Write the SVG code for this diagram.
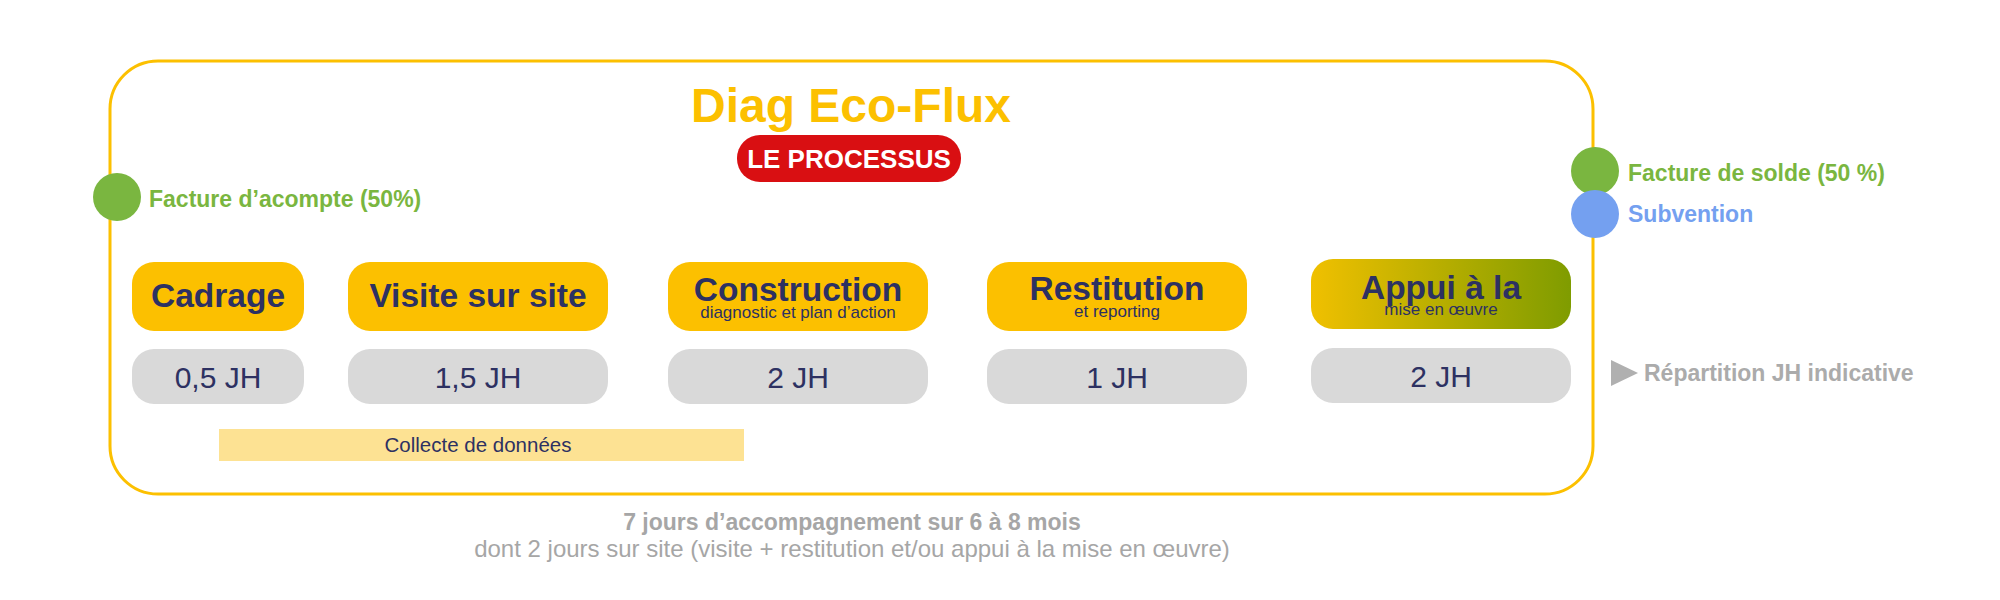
<svg xmlns="http://www.w3.org/2000/svg" width="2000" height="600" viewBox="0 0 2000 600">
<style>
text{font-family:"Liberation Sans",Arial,sans-serif}
.stage{fill:#FCC000}
.jh{fill:#D9D9D9}
.t{font-weight:bold;font-size:33.5px;fill:#2D3162;text-anchor:middle}
.s{font-size:17px;fill:#2D3162;text-anchor:middle}
.n{font-size:30px;fill:#2D3162;text-anchor:middle}
.lab{font-weight:bold;font-size:23px}
</style>
<defs>
<linearGradient id="g" x1="0" y1="0" x2="1" y2="0">
<stop offset="0" stop-color="#F0C000"/>
<stop offset="1" stop-color="#7F9C00"/>
</linearGradient>
</defs>
<rect width="2000" height="600" fill="#fff"/>
<g id="frame">
<rect x="110" y="61" width="1483" height="433" rx="48" fill="none" stroke="#FCC000" stroke-width="3"/>
</g>
<g id="title">
<text x="851" y="122" font-size="48" font-weight="bold" fill="#FCC000" text-anchor="middle">Diag Eco-Flux</text>
<rect x="737" y="135" width="224" height="47" rx="23" fill="#D90F12"/>
<text x="849" y="168" font-size="26" font-weight="bold" fill="#fff" text-anchor="middle">LE PROCESSUS</text>
</g>
<g id="acompte">
<circle cx="117" cy="197" r="24" fill="#7AB640"/>
<text x="149" y="207" class="lab" fill="#7AB640">Facture d’acompte (50%)</text>
</g>
<g id="solde">
<circle cx="1595" cy="171" r="24" fill="#7AB640"/>
<text x="1628" y="181" class="lab" fill="#7AB640">Facture de solde (50 %)</text>
</g>
<g id="subvention">
<circle cx="1595" cy="214" r="24" fill="#74A0F0"/>
<text x="1628" y="222" class="lab" fill="#74A0F0">Subvention</text>
</g>
<g id="cadrage">
<rect class="stage" x="132" y="262" width="172" height="69" rx="22"/>
<text class="t" x="218" y="307">Cadrage</text>
<rect class="jh" x="132" y="349" width="172" height="55" rx="22"/>
<text class="n" x="218" y="388">0,5 JH</text>
</g>
<g id="visite">
<rect class="stage" x="348" y="262" width="260" height="69" rx="22"/>
<text class="t" x="478" y="307">Visite sur site</text>
<rect class="jh" x="348" y="349" width="260" height="55" rx="22"/>
<text class="n" x="478" y="388">1,5 JH</text>
</g>
<g id="construction">
<rect class="stage" x="668" y="262" width="260" height="69" rx="22"/>
<text class="t" x="798" y="301">Construction</text>
<text class="s" x="798" y="318">diagnostic et plan d’action</text>
<rect class="jh" x="668" y="349" width="260" height="55" rx="22"/>
<text class="n" x="798" y="388">2 JH</text>
</g>
<g id="restitution">
<rect class="stage" x="987" y="262" width="260" height="69" rx="22"/>
<text class="t" x="1117" y="300">Restitution</text>
<text class="s" x="1117" y="317">et reporting</text>
<rect class="jh" x="987" y="349" width="260" height="55" rx="22"/>
<text class="n" x="1117" y="388">1 JH</text>
</g>
<g id="appui">
<rect x="1311" y="259" width="260" height="70" rx="22" fill="url(#g)"/>
<text class="t" x="1441" y="299">Appui à la</text>
<text class="s" x="1441" y="315">mise en œuvre</text>
<rect class="jh" x="1311" y="348" width="260" height="55" rx="22"/>
<text class="n" x="1441" y="387">2 JH</text>
</g>
<g id="collecte">
<rect x="219" y="429" width="525" height="32" fill="#FDE293"/>
<text x="478" y="452" font-size="20.5" fill="#2D3162" text-anchor="middle">Collecte de données</text>
</g>
<g id="legend">
<polygon points="1611,360 1638,373 1611,386" fill="#B0B0B0"/>
<text x="1644" y="381" class="lab" fill="#ABABAB">Répartition JH indicative</text>
</g>
<g id="footer">
<text x="852" y="530" font-size="23" font-weight="bold" fill="#A6A6A6" text-anchor="middle">7 jours d’accompagnement sur 6 à 8 mois</text>
<text x="852" y="557" font-size="24" fill="#A6A6A6" text-anchor="middle">dont 2 jours sur site (visite + restitution et/ou appui à la mise en œuvre)</text>
</g>
</svg>
